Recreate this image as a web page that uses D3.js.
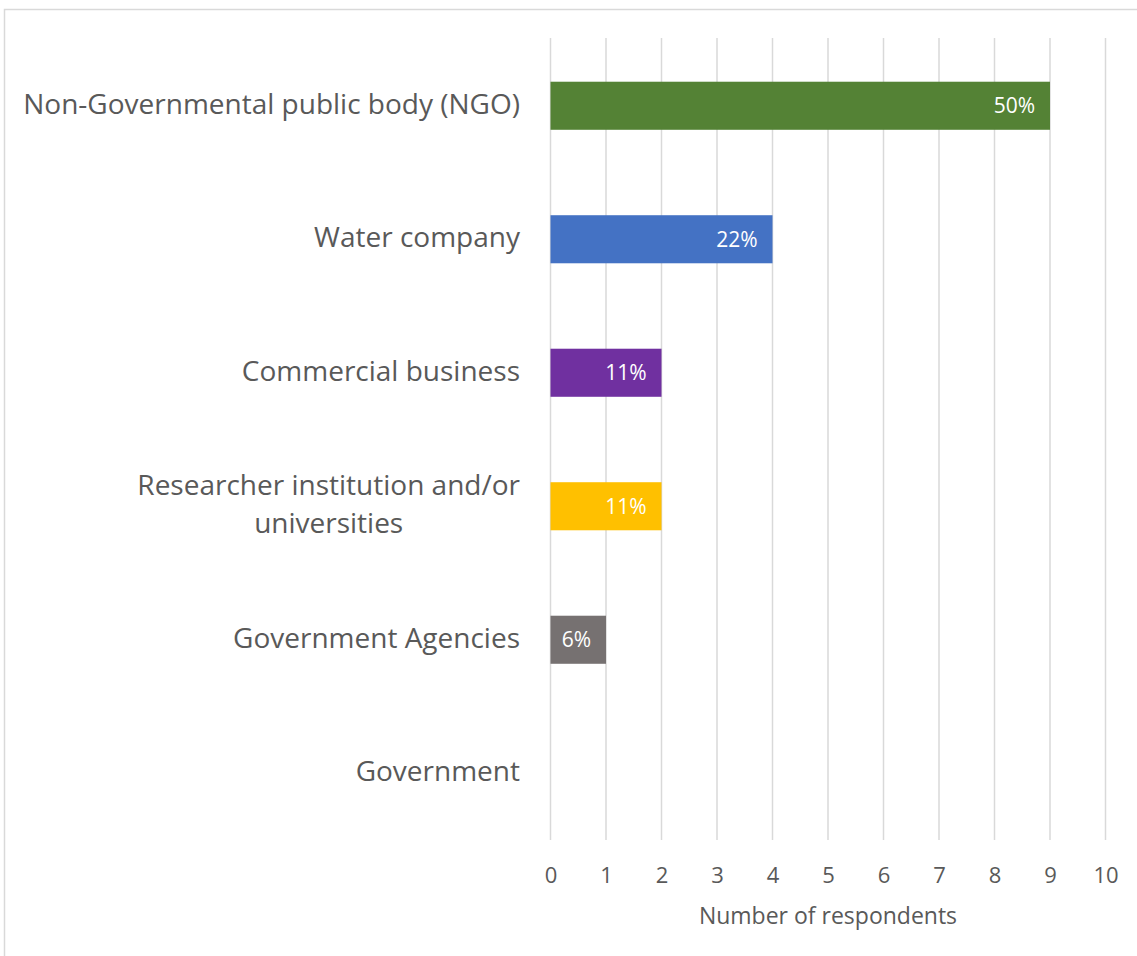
<!DOCTYPE html>
<html>
<head>
<meta charset="utf-8">
<script src="https://cdn.jsdelivr.net/npm/d3@7/dist/d3.min.js"></script>
<style>
  html, body { margin: 0; padding: 0; background: #ffffff; }
  svg { display: block; }
  text { font-family: "Open Sans", "Noto Sans", sans-serif; fill: #595959; }
</style>
</head>
<body>
<svg id="chart" width="1137" height="956"></svg>
<script>
// Respondent types and how many respondents fall in each
const categories = [
  "Non-Governmental public body (NGO)",
  "Water company",
  "Commercial business",
  "Researcher institution and/or universities",
  "Government Agencies",
  "Government"
];
const respondents = [9, 4, 2, 2, 1, 0];
const barColors = ["#548235", "#4472C4", "#7030A0", "#FFC000", "#767171", "#A5A5A5"];
const xTicks = [0, 1, 2, 3, 4, 5, 6, 7, 8, 9, 10];
const xTitle = "Number of respondents";

const total = d3.sum(respondents);
const rows = categories.map((c, i) => ({ name: c, value: respondents[i], color: barColors[i] }));

const svg = d3.select("#chart");
const W = 1137, H = 956;

// chart frame
svg.append("rect")
  .attr("x", 4.5).attr("y", 9.5)
  .attr("width", W + 20).attr("height", H + 20)
  .attr("fill", "none")
  .attr("stroke", "#d9d9d9")
  .attr("stroke-width", 1.5);

const plot = { left: 550.5, right: 1105.5, top: 39, bottom: 840 };

const x = d3.scaleLinear().domain([0, 10]).range([plot.left, plot.right]);
const y = d3.scaleBand()
  .domain(categories)
  .range([plot.top, plot.bottom])
  .paddingInner(0.64)
  .paddingOuter(0.32);

// vertical gridlines
svg.append("g")
  .selectAll("line")
  .data(xTicks)
  .join("line")
  .attr("x1", d => x(d)).attr("x2", d => x(d))
  .attr("y1", plot.top - 1).attr("y2", plot.bottom)
  .attr("stroke", "#d9d9d9")
  .attr("stroke-width", 1.5);

// bars
svg.append("g")
  .selectAll("rect")
  .data(rows.filter(d => d.value > 0))
  .join("rect")
  .attr("x", x(0))
  .attr("y", d => y(d.name))
  .attr("width", d => x(d.value) - x(0))
  .attr("height", y.bandwidth())
  .attr("fill", d => d.color);

// percentage labels at the inside end of each bar
const pct = d3.format(".0%");
svg.append("g")
  .selectAll("text")
  .data(rows.filter(d => d.value > 0))
  .join("text")
  .attr("x", d => x(d.value) - 15)
  .attr("y", d => y(d.name) + y.bandwidth() / 2 + 7.5)
  .attr("text-anchor", "end")
  .style("fill", "#ffffff")
  .style("font-size", "21px")
  .text(d => pct(d.value / total));

// x axis tick labels
const xAxis = d3.axisBottom(x).tickValues(xTicks).tickSize(0).tickPadding(0).tickFormat(d3.format("d"));
const gx = svg.append("g").attr("transform", `translate(0, ${plot.bottom})`).call(xAxis);
gx.select(".domain").remove();
gx.selectAll("text")
  .attr("y", 43)
  .attr("dy", null)
  .style("font-size", "22px")
  .style("font-family", "'Open Sans', sans-serif")
  .attr("fill", "#595959");

// x axis title
svg.append("text")
  .attr("x", (plot.left + plot.right) / 2)
  .attr("y", 924)
  .attr("text-anchor", "middle")
  .style("font-size", "23px")
  .text(xTitle);

// category labels, wrapped and right-aligned against the plot
const labelRight = 520, wrapWidth = 505, lineGap = 38;
const labels = svg.append("g");
rows.forEach(d => {
  const cy = y(d.name) + y.bandwidth() / 2;
  const t = labels.append("text").style("font-size", "28px").attr("text-anchor", "middle");
  const words = d.name.split(" ");
  const lines = [];
  let line = [];
  const probe = t.append("tspan");
  words.forEach(w => {
    const trial = line.concat(w).join(" ");
    probe.text(trial);
    if (probe.node().getComputedTextLength() > wrapWidth && line.length) {
      lines.push(line.join(" "));
      line = [w];
    } else {
      line.push(w);
    }
  });
  lines.push(line.join(" "));
  probe.remove();
  let maxW = 0;
  const spans = lines.map(s => {
    const sp = t.append("tspan").text(s);
    maxW = Math.max(maxW, sp.node().getComputedTextLength());
    return sp;
  });
  const cx = labelRight - maxW / 2;
  const first = cy + 8 - (lines.length - 1) * lineGap / 2;
  spans.forEach((sp, i) => sp.attr("x", cx).attr("y", first + i * lineGap));
});
</script>
</body>
</html>
